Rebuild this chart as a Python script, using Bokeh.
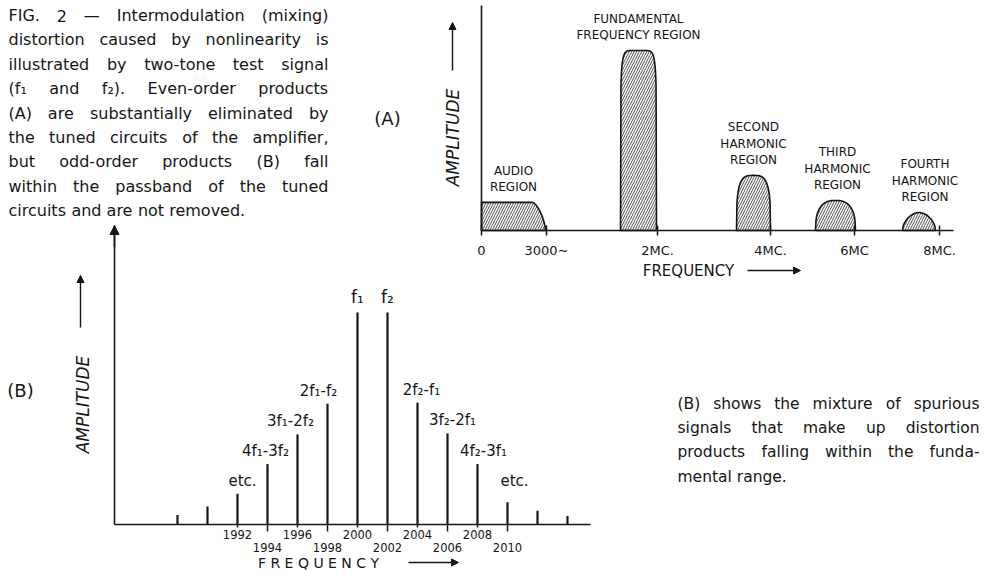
import numpy as np
from bokeh.plotting import figure
from bokeh.models import (Range1d, LinearAxis, FixedTicker, Arrow, NormalHead,
                          ColumnDataSource)
from bokeh.core.properties import value
from bokeh.embed import file_html
from bokeh.resources import INLINE

# ---------------- data ----------------
# (A) spectrum regions on a schematic frequency axis
a_tick_pos = [0, 65, 176, 289, 373, 458]
a_tick_labels = ["0", "3000\u223c", "2MC.", "4MC.", "6MC", "8MC."]
a_region_names = ["AUDIO\nREGION", "FUNDAMENTAL\nFREQUENCY REGION",
                  "SECOND\nHARMONIC\nREGION", "THIRD\nHARMONIC\nREGION",
                  "FOURTH\nHARMONIC\nREGION"]
a_region_left = [0, 139, 255, 334, 421]
a_region_right = [64, 175, 289, 374, 454]
a_region_peak = [0.156, 1.0, 0.306, 0.167, 0.10]
a_audio_flat_end = 51

# (B) intermodulation products
b_freqs = [1988, 1990, 1992, 1994, 1996, 1998, 2000, 2002, 2004, 2006, 2008, 2010, 2012, 2014]
b_amps = [0.045, 0.085, 0.145, 0.285, 0.425, 0.57, 1.0, 1.0, 0.575, 0.43, 0.285, 0.105, 0.065, 0.04]
b_labels = ["", "", "etc.", "4f\u2081-3f\u2082", "3f\u2081-2f\u2082", "2f\u2081-f\u2082", "f\u2081",
            "f\u2082", "2f\u2082-f\u2081", "3f\u2082-2f\u2081", "4f\u2082-3f\u2081", "etc.", "", ""]
b_ticks_row1 = [1992, 1996, 2000, 2004, 2008]
b_ticks_row2 = [1994, 1998, 2002, 2006, 2010]

caption_lines = [
    "FIG. 2 \u2014 Intermodulation (mixing)",
    "distortion caused by nonlinearity is",
    "illustrated by two-tone test signal",
    "(f\u2081 and f\u2082). Even-order products",
    "(A) are substantially eliminated by",
    "the tuned circuits of the amplifier,",
    "but odd-order products (B) fall",
    "within the passband of the tuned",
    "circuits and are not removed.",
]
note_lines = [
    "(B) shows the mixture of spurious",
    "signals that make up distortion",
    "products falling within the funda-",
    "mental range.",
]

# ---------------- layout / style ----------------
W, H = 981, 571
INK = "#151515"
FONT = value("DejaVu Sans")

# approximate DejaVu Sans advance widths (units per 2048 em) for justification
CW = {" ": 651, "(": 799, ")": 799, ",": 651, "-": 739, ".": 651, "\u2014": 2048,
      "\u2081": 830, "\u2082": 830}
for c in "0123456789":
    CW[c] = 1303
CW.update(dict(zip("ABCDEFGHIJKLMNOPQRSTUVWXYZ",
                   [1401, 1405, 1430, 1577, 1294, 1178, 1587, 1540, 604, 604, 1343, 1141, 1767,
                    1532, 1612, 1235, 1612, 1423, 1300, 1251, 1499, 1401, 2025, 1403, 1251, 1403])))
CW.update(dict(zip("abcdefghijklmnopqrstuvwxyz",
                   [1255, 1300, 1126, 1300, 1260, 721, 1300, 1298, 569, 569, 1186, 569, 1995,
                    1298, 1253, 1300, 1300, 842, 1067, 803, 1298, 1212, 1675, 1212, 1212, 1075])))


def text_width(s, fs):
    return sum(CW.get(c, 1200) for c in s) * fs / 2048.0


def justify(lines, left, width, top, step, fs):
    xs, ys, ts = [], [], []
    for i, line in enumerate(lines):
        words = line.split(" ")
        ws = [text_width(w, fs) for w in words]
        if len(words) > 1 and i < len(lines) - 1:
            gap = (width - sum(ws)) / (len(words) - 1)
        else:
            gap = text_width(" ", fs)
        x = left
        for w, wd in zip(words, ws):
            xs.append(x)
            ys.append(top + i * step)
            ts.append(w)
            x += wd + gap
    return dict(x=xs, y=ys, text=ts)


p = figure(width=W, height=H, x_range=Range1d(0, W), y_range=Range1d(H, 0),
           x_axis_type=None, y_axis_type=None, toolbar_location=None,
           output_backend="svg", min_border=0, outline_line_color=None,
           background_fill_color="white", border_fill_color="white")

# panel (A) coordinate system (origin of its axes, px per amplitude unit)
A_OX, A_OY, A_SY = 481, 230, 180.0
p.extra_x_ranges["ax"] = Range1d(-A_OX, W - A_OX)
p.extra_y_ranges["ay"] = Range1d(-(H - A_OY) / A_SY, A_OY / A_SY)
# panel (B) coordinate system
B_X0, B_F0, B_SX = 237, 1992, 15.0
B_OY, B_SY = 524, 212.0
p.extra_x_ranges["bx"] = Range1d(B_F0 - B_X0 / B_SX, B_F0 + (W - B_X0) / B_SX)
p.extra_y_ranges["by"] = Range1d(-(H - B_OY) / B_SY, B_OY / B_SY)


def style_axis(ax, lw=1.6):
    ax.axis_line_color = INK
    ax.axis_line_width = lw
    ax.major_tick_line_color = INK
    ax.major_tick_line_width = 1.5
    ax.minor_tick_line_color = None
    ax.major_label_text_color = INK
    ax.major_label_text_font = "DejaVu Sans"


# ---------- panel A ----------
a_x = LinearAxis(x_range_name="ax", y_range_name="ay", fixed_location=0,
                 bounds=(0, 472), ticker=FixedTicker(ticks=a_tick_pos),
                 major_label_overrides={k: v for k, v in zip(a_tick_pos, a_tick_labels)})
style_axis(a_x)
a_x.major_tick_in = 5
a_x.major_tick_out = 5
a_x.major_label_standoff = 7
a_x.major_label_text_font_size = "13px"
p.add_layout(a_x, "below")

a_y = LinearAxis(x_range_name="ax", y_range_name="ay", fixed_location=0,
                 bounds=(0, (A_OY - 5) / A_SY), ticker=FixedTicker(ticks=[]))
style_axis(a_y)
a_y.major_label_text_font_size = "0px"
p.add_layout(a_y, "left")

a_exp = [1.5, 8.0, 3.5, 2.6, 1.8]
a_xs, a_ys = [], []
for i in range(len(a_region_left)):
    x0, x1, h = a_region_left[i], a_region_right[i], a_region_peak[i]
    if i == 0:
        u = np.linspace(0, 1, 40)
        xr = a_audio_flat_end + u * (x1 - a_audio_flat_end)
        yr = h * (1 - u ** a_exp[i]) ** (1 / a_exp[i])
        xs = np.concatenate([[x0, x0], xr])
        ys = np.concatenate([[0, h], yr])
    else:
        u = np.linspace(-1, 1, 80)
        xs = (x0 + x1) / 2 + u * (x1 - x0) / 2
        ys = h * (1 - np.abs(u) ** a_exp[i]) ** (1 / a_exp[i])
    a_xs.append(list(xs))
    a_ys.append(list(ys))

p.patches(xs=a_xs, ys=a_ys, x_range_name="ax", y_range_name="ay",
          fill_color="white", line_color=INK, line_width=1.6,
          hatch_pattern="/", hatch_color="#3a3a3a", hatch_scale=5, hatch_weight=0.9)

a_lab = ColumnDataSource(dict(
    x=[(l + r) / 2 for l, r in zip(a_region_left, a_region_right)],
    y=a_region_peak, text=a_region_names, dx=[0, 0, 0, 2, 6]))
p.text(x="x", y="y", text="text", source=a_lab, x_range_name="ax", y_range_name="ay",
       x_offset="dx", text_align="center", text_baseline="bottom", y_offset=-8,
       text_font=FONT, text_font_size=value("12px"), text_line_height=1.2, text_color=INK)

# ---------- panel B ----------
b_origin = B_F0 - (B_X0 - 114) / B_SX
b_end = 2015.5
b_x1 = LinearAxis(x_range_name="bx", y_range_name="by", fixed_location=0,
                  bounds=(b_origin, b_end), ticker=FixedTicker(ticks=b_ticks_row1))
style_axis(b_x1)
b_x1.major_tick_in = 0
b_x1.major_tick_out = 3
b_x1.major_label_standoff = 2
b_x1.major_label_text_font_size = "11.5px"
p.add_layout(b_x1, "below")

b_x2 = LinearAxis(x_range_name="bx", y_range_name="by", fixed_location=0,
                  bounds=(b_origin, b_end), ticker=FixedTicker(ticks=b_ticks_row2))
style_axis(b_x2)
b_x2.axis_line_color = None
b_x2.major_tick_in = 0
b_x2.major_tick_out = 7
b_x2.major_label_standoff = 11
b_x2.major_label_text_font_size = "11.5px"
p.add_layout(b_x2, "below")

b_top = (B_OY - 225) / B_SY
b_y = LinearAxis(x_range_name="bx", y_range_name="by", fixed_location=b_origin,
                 bounds=(0, b_top), ticker=FixedTicker(ticks=[]))
style_axis(b_y)
b_y.major_label_text_font_size = "0px"
p.add_layout(b_y, "left")
p.add_layout(Arrow(end=NormalHead(size=9, fill_color=INK, line_color=INK),
                   x_start=b_origin, y_start=b_top - 0.1, x_end=b_origin, y_end=b_top,
                   line_color=INK, line_width=1.6, x_range_name="bx", y_range_name="by"))

b_src = ColumnDataSource(dict(f=b_freqs, a=b_amps, label=b_labels,
                              dx=[0, 0, 5, -2, -7, -9, 0, 0, 4, 5, 6, 7, 0, 0],
                              dy=[0, 0, -4, -4, -4, -4, -6, -6, -4, -4, -4, -12, 0, 0]))
p.segment(x0="f", y0=0, x1="f", y1="a", source=b_src, x_range_name="bx", y_range_name="by",
          line_color=INK, line_width=2.2)

small_idx = [i for i, t in enumerate(b_labels) if t and not t.startswith("f")]
big_idx = [i for i, t in enumerate(b_labels) if t.startswith("f")]
for idx, fs in ((small_idx, "15px"), (big_idx, "17px")):
    src = ColumnDataSource({k: [b_src.data[k][i] for i in idx] for k in b_src.data})
    p.text(x="f", y="a", text="label", source=src, x_range_name="bx", y_range_name="by",
           x_offset="dx", y_offset="dy", text_align="center", text_baseline="bottom",
           text_font=FONT, text_font_size=value(fs), text_color=INK)

# axis titles (rotated amplitude labels in panel coordinates)
p.text(x=[452 - A_OX], y=[(A_OY - 137) / A_SY], text=["AMPLITUDE"], angle=np.pi / 2,
       x_range_name="ax", y_range_name="ay", text_align="center", text_baseline="middle",
       text_font=FONT, text_font_style="italic", text_font_size=value("17px"), text_color=INK)
p.text(x=[B_F0 - (B_X0 - 82) / B_SX], y=[(B_OY - 404) / B_SY], text=["AMPLITUDE"],
       angle=np.pi / 2, x_range_name="bx", y_range_name="by", text_align="center",
       text_baseline="middle", text_font=FONT, text_font_style="italic",
       text_font_size=value("17px"), text_color=INK)

# frequency titles (layout coordinates)
p.text(x=[688], y=[270], text=["FREQUENCY"], text_align="center", text_baseline="middle",
       text_font=FONT, text_font_size=value("15px"), text_color=INK)
p.text(x=[318], y=[562], text=["F R E Q U E N C Y"], text_align="center",
       text_baseline="middle", text_font=FONT, text_font_size=value("14px"), text_color=INK)

for xs_, ys_, xe_, ye_ in ((747, 270, 800, 270), (408, 562, 458, 562),
                           (452, 70, 452, 22), (80, 327, 80, 275)):
    p.add_layout(Arrow(end=NormalHead(size=7, fill_color=INK, line_color=INK),
                       x_start=xs_, y_start=ys_, x_end=xe_, y_end=ye_,
                       line_color=INK, line_width=1.4))

# panel tags
p.text(x=[387, 20], y=[118, 390], text=["(A)", "(B)"], text_align="center",
       text_baseline="middle", text_font=FONT, text_font_size=value("18px"), text_color=INK)

# caption and note paragraphs (justified)
cap = justify(caption_lines, 8, 320, 15, 24.4, 16)
p.text(x="x", y="y", text="text", source=ColumnDataSource(cap), text_align="left",
       text_baseline="middle", text_font=FONT, text_font_size=value("16px"), text_color=INK)
note = justify(note_lines, 677, 302, 403, 24.4, 15.5)
p.text(x="x", y="y", text="text", source=ColumnDataSource(note), text_align="left",
       text_baseline="middle", text_font=FONT, text_font_size=value("15.5px"), text_color=INK)

open("out.html", "w").write(file_html(p, INLINE))
